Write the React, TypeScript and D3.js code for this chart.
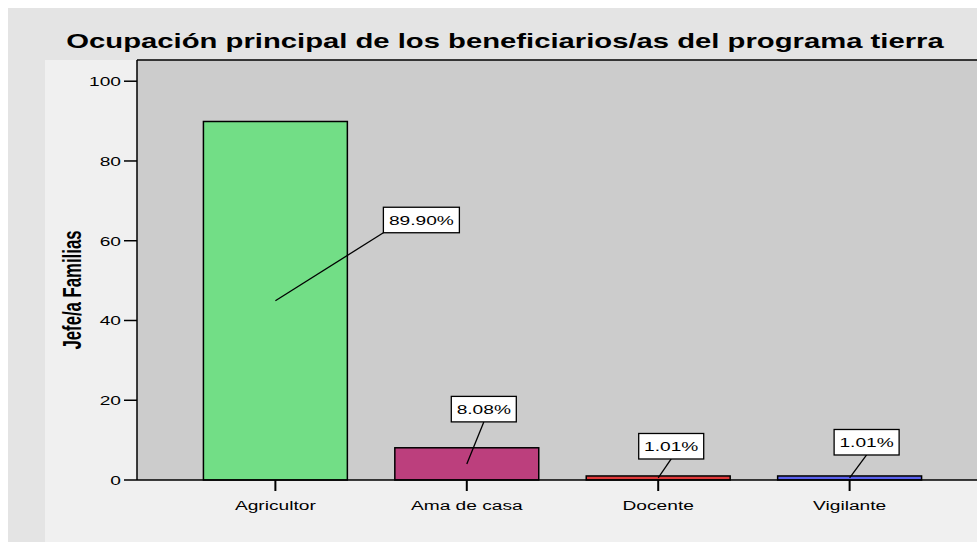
import React from "react";
import * as d3 from "d3";

const categories = ["Agricultor", "Ama de casa", "Docente", "Vigilante"];
const values = [89.9, 8.08, 1.01, 1.01];
const labels = ["89.90%", "8.08%", "1.01%", "1.01%"];
const colors = ["#72de86", "#bc3f7d", "#e13a3a", "#5b62f0"];
const yTicks = [0, 20, 40, 60, 80, 100];
const labelOffsets = [
  { bx: 108, by: -68, anchor: "left" },
  { bx: 17, by: -42, anchor: "bottom" },
  { bx: 13, by: -19, anchor: "bottom" },
  { bx: 17, by: -23, anchor: "bottom" },
];

const W = 977;
const H = 542;
const plotLeft = 137;
const plotTop = 60;
const plotBottom = 480;
const font = "'Liberation Sans', Arial, sans-serif";
const SX = 1.42;

function T({
  x,
  y,
  anchor = "start",
  size = 13.5,
  sx = SX,
  bold = false,
  children,
}: {
  x: number;
  y: number;
  anchor?: string;
  size?: number;
  sx?: number;
  bold?: boolean;
  children: React.ReactNode;
}) {
  return (
    <text
      transform={`translate(${x},${y}) scale(${sx},1)`}
      textAnchor={anchor}
      fontFamily={font}
      fontSize={size}
      fontWeight={bold ? "bold" : "normal"}
      fill="#000"
    >
      {children}
    </text>
  );
}

export default function App() {
  const x = d3
    .scaleBand<string>()
    .domain(categories)
    .range([plotLeft, 988])
    .paddingInner(0.248)
    .paddingOuter(0.347);
  const y = d3.scaleLinear().domain([0, 105.32]).range([plotBottom, plotTop]);

  return (
    <svg
      width={W}
      height={H}
      style={{ position: "absolute", left: 0, top: 0, display: "block" }}
    >
      <rect x={0} y={0} width={W} height={H} fill="#ffffff" />
      <rect x={8} y={8} width={W - 8} height={H - 8} fill="#e4e4e4" />
      <rect x={45} y={60} width={W - 45} height={H - 60} fill="#f0f0f0" />
      <rect
        x={plotLeft}
        y={plotTop}
        width={W - plotLeft}
        height={plotBottom - plotTop}
        fill="#cccccc"
      />
      <T x={505} y={48} anchor="middle" size={19.5} sx={1.5} bold>
        Ocupación principal de los beneficiarios/as del programa tierra
      </T>
      {categories.map((c, i) => (
        <rect
          key={c}
          x={x(c)}
          y={y(values[i])}
          width={x.bandwidth()}
          height={plotBottom - y(values[i])}
          fill={colors[i]}
          stroke="#000"
          strokeWidth={1.5}
        />
      ))}
      <line x1={plotLeft} y1={plotTop} x2={W} y2={plotTop} stroke="#000" strokeWidth={1.5} />
      <line x1={plotLeft} y1={plotTop} x2={plotLeft} y2={plotBottom} stroke="#000" strokeWidth={1.5} />
      <line x1={plotLeft} y1={plotBottom} x2={W} y2={plotBottom} stroke="#000" strokeWidth={1.5} />
      {yTicks.map((t) => (
        <g key={t}>
          <line x1={124} x2={plotLeft} y1={y(t)} y2={y(t)} stroke="#000" strokeWidth={1.5} />
          <T x={121} y={y(t) + 5} anchor="end">
            {t}
          </T>
        </g>
      ))}
      {categories.map((c) => {
        const cx = (x(c) as number) + x.bandwidth() / 2;
        return (
          <g key={c}>
            <line x1={cx} x2={cx} y1={plotBottom} y2={491} stroke="#000" strokeWidth={2} />
            <T x={cx} y={510} anchor="middle">
              {c}
            </T>
          </g>
        );
      })}
      <text
        transform={`translate(81,290) rotate(-90)`}
        textAnchor="middle"
        fontFamily={font}
        fontWeight="bold"
        fontSize={26}
        textLength={119}
        lengthAdjust="spacingAndGlyphs"
        fill="#000"
      >
        Jefe/a Familias
      </text>
      {categories.map((c, i) => {
        const cx = (x(c) as number) + x.bandwidth() / 2;
        const my = y(values[i] / 2);
        const off = labelOffsets[i];
        const bw = labels[i].length > 5 ? 76 : 65;
        const bh = 25.5;
        const ex = cx + off.bx;
        const ey = my + off.by;
        const bx = off.anchor === "left" ? ex : ex - bw / 2;
        const by = ey - bh;
        return (
          <g key={c + "lbl"}>
            <line x1={cx} y1={my} x2={ex} y2={ey} stroke="#000" strokeWidth={1.3} />
            <rect x={bx} y={by} width={bw} height={bh} fill="#fff" stroke="#000" strokeWidth={1.3} />
            <T x={bx + bw / 2} y={by + bh / 2 + 5} anchor="middle">
              {labels[i]}
            </T>
          </g>
        );
      })}
    </svg>
  );
}
